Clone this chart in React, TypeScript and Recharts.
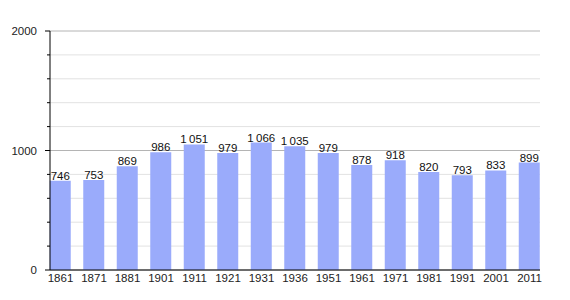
import React from "react";
import { BarChart, Bar, XAxis, YAxis, CartesianGrid, LabelList } from "recharts";

const years = ["1861", "1871", "1881", "1901", "1911", "1921", "1931", "1936", "1951", "1961", "1971", "1981", "1991", "2001", "2011"];
const population = [746, 753, 869, 986, 1051, 979, 1066, 1035, 979, 878, 918, 820, 793, 833, 899];
const yTicks = [0, 200, 400, 600, 800, 1000, 1200, 1400, 1600, 1800, 2000];
const majorTicks = [0, 1000, 2000];
const minorTicks = yTicks.filter((t) => !majorTicks.includes(t));

const data = years.map((y, i) => ({ year: y, pop: population[i] }));

const FONT = "'Liberation Sans Narrow', 'Liberation Sans', Arial, sans-serif";

const fmt = (v: number) => {
  const s = String(v);
  return s.length > 3 ? s.slice(0, s.length - 3) + "\u2009" + s.slice(-3) : s;
};

const YTick = (props: any) => {
  const { x, y, payload } = props;
  const major = majorTicks.includes(payload.value);
  return (
    <g>
      <line x1={x - (major ? 5 : 3)} x2={x} y1={y} y2={y} stroke="#000" strokeWidth={1} />
      {major && (
        <text x={x - 13} y={y} dy="0.35em" textAnchor="end" fontSize={11.5} fontFamily={FONT} fill="#222">
          {payload.value}
        </text>
      )}
    </g>
  );
};

const XTick = (props: any) => {
  const { x, y, payload } = props;
  return (
    <text x={x} y={y} dy="0.71em" textAnchor="middle" fontSize={11.5} fontFamily={FONT} fill="#222">
      {payload.value}
    </text>
  );
};

export default function App() {
  return (
    <div style={{ position: "absolute", left: 0, top: 0, width: 570, height: 300, background: "#fff" }}>
      <BarChart width={570} height={300} data={data} margin={{ top: 31, right: 30, left: 0, bottom: 0 }} barSize={21}>
        <CartesianGrid vertical={false} horizontalValues={minorTicks} stroke="#e2e2e2" />
        <CartesianGrid vertical={false} horizontalValues={majorTicks} stroke="#b4b4b4" />
        <XAxis
          dataKey="year"
          height={30}
          padding={{ left: -6.25, right: -6.25 }}
          axisLine={{ stroke: "#000", strokeWidth: 1 }}
          tickLine={false}
          tickSize={0}
          tickMargin={4}
          tick={<XTick />}
          interval={0}
        />
        <YAxis
          width={50}
          domain={[0, 2000]}
          ticks={yTicks}
          interval={0}
          axisLine={{ stroke: "#000", strokeWidth: 1 }}
          tickLine={false}
          tickSize={0}
          tickMargin={0}
          tick={<YTick />}
        />
        <Bar dataKey="pop" fill="#9aabfb" isAnimationActive={false}>
          <LabelList
            dataKey="pop"
            position="top"
            offset={1}
            formatter={(v: any) => fmt(Number(v))}
            style={{ fontSize: 11.5, fontFamily: FONT, fill: "#111" }}
          />
        </Bar>
      </BarChart>
    </div>
  );
}
